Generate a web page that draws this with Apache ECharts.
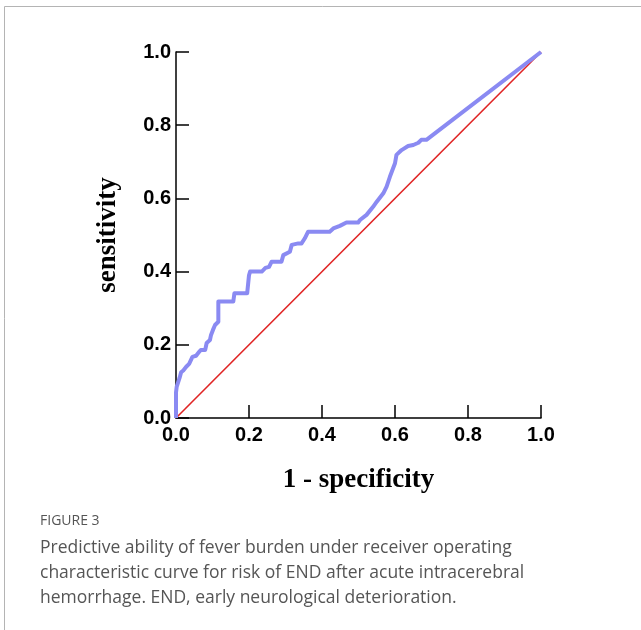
<!DOCTYPE html>
<html>
<head>
<meta charset="utf-8">
<script src="https://cdn.jsdelivr.net/npm/echarts@6/dist/echarts.min.js"></script>
<style>
html,body{margin:0;padding:0;background:#fff;}
#c{width:641px;height:630px;}
</style>
</head>
<body>
<div id="c"></div>
<script>
// ROC curve: 1 - specificity (FPR) and sensitivity (TPR)
const fpr = [0, 0, 0.002, 0.006, 0.010, 0.014, 0.020, 0.028, 0.036, 0.045, 0.055, 0.063, 0.068, 0.080, 0.084, 0.093, 0.096, 0.101, 0.107, 0.116, 0.116, 0.157, 0.160, 0.195, 0.200, 0.203, 0.235, 0.245, 0.255, 0.262, 0.289, 0.294, 0.312, 0.317, 0.335, 0.344, 0.353, 0.362, 0.421, 0.431, 0.449, 0.467, 0.499, 0.504, 0.522, 0.540, 0.550, 0.568, 0.577, 0.586, 0.600, 0.604, 0.618, 0.636, 0.650, 0.664, 0.672, 0.686, 1.0];
const tpr = [0, 0.07, 0.086, 0.090, 0.110, 0.125, 0.130, 0.140, 0.148, 0.167, 0.170, 0.180, 0.186, 0.186, 0.205, 0.213, 0.227, 0.240, 0.254, 0.263, 0.318, 0.318, 0.341, 0.341, 0.390, 0.400, 0.400, 0.410, 0.413, 0.427, 0.427, 0.445, 0.454, 0.473, 0.477, 0.477, 0.491, 0.509, 0.509, 0.518, 0.525, 0.534, 0.534, 0.541, 0.555, 0.577, 0.591, 0.614, 0.632, 0.659, 0.696, 0.719, 0.732, 0.743, 0.746, 0.752, 0.760, 0.760, 1.0];
const refX = [0, 1];
const refY = [0, 1];
const xTicks = [0, 0.2, 0.4, 0.6, 0.8, 1.0];
const yTicks = [0, 0.2, 0.4, 0.6, 0.8, 1.0];

const chart = echarts.init(document.getElementById('c'));
const rocData = fpr.map((v, i) => [v, tpr[i]]);
const refData = refX.map((v, i) => [v, refY[i]]);

const axisCommon = {
  type: 'value', min: 0, max: 1, interval: 0.2,
  splitLine: {show: false},
  axisLine: {show: true, lineStyle: {color: '#000', width: 1.5}},
  axisTick: {show: true, inside: true, length: 13, lineStyle: {color: '#000', width: 1.5}},
  axisLabel: {color: '#000', fontFamily: 'Liberation Sans, Arial, sans-serif', fontWeight: 'bold', fontSize: 20,
    formatter: v => v.toFixed(1)},
  nameLocation: 'middle',
  nameTextStyle: {color: '#000', fontFamily: 'Liberation Serif, Times New Roman, serif', fontWeight: 'bold', fontSize: 27}
};

chart.setOption({
  animation: false,
  backgroundColor: '#fff',
  grid: {left: 176, right: 100, top: 52, bottom: 212},
  xAxis: Object.assign({}, axisCommon, {
    name: '1 - specificity', nameGap: 49,
    axisLabel: Object.assign({}, axisCommon.axisLabel, {margin: 7})
  }),
  yAxis: Object.assign({}, axisCommon, {
    name: 'sensitivity', nameGap: 54,
    axisLabel: Object.assign({}, axisCommon.axisLabel, {margin: 5})
  }),
  series: [
    {type: 'line', data: refData, symbol: 'none', lineStyle: {color: '#e02424', width: 1.6}, z: 2},
    {type: 'line', data: rocData, symbol: 'none', lineStyle: {color: '#8a8af2', width: 4, join: 'round'}, z: 3}
  ],
  graphic: [
    {type: 'line', shape: {x1: 4.5, y1: 6.5, x2: 641, y2: 6.5}, style: {stroke: '#b4b4b4', lineWidth: 1}},
    {type: 'line', shape: {x1: 4.5, y1: 6.5, x2: 4.5, y2: 630}, style: {stroke: '#b4b4b4', lineWidth: 1}},
    {type: 'text', left: 40, top: 514, style: {text: 'FIGURE 3', fill: '#555', font: '14px "Open Sans", sans-serif'}},
    {type: 'text', left: 40, top: 539, style: {text: 'Predictive ability of fever burden under receiver operating', fill: '#555', font: '17.5px "Open Sans", sans-serif'}},
    {type: 'text', left: 40, top: 564, style: {text: 'characteristic curve for risk of END after acute intracerebral', fill: '#555', font: '17.5px "Open Sans", sans-serif'}},
    {type: 'text', left: 40, top: 589, style: {text: 'hemorrhage. END, early neurological deterioration.', fill: '#555', font: '17.5px "Open Sans", sans-serif'}}
  ]
});
</script>
</body>
</html>
